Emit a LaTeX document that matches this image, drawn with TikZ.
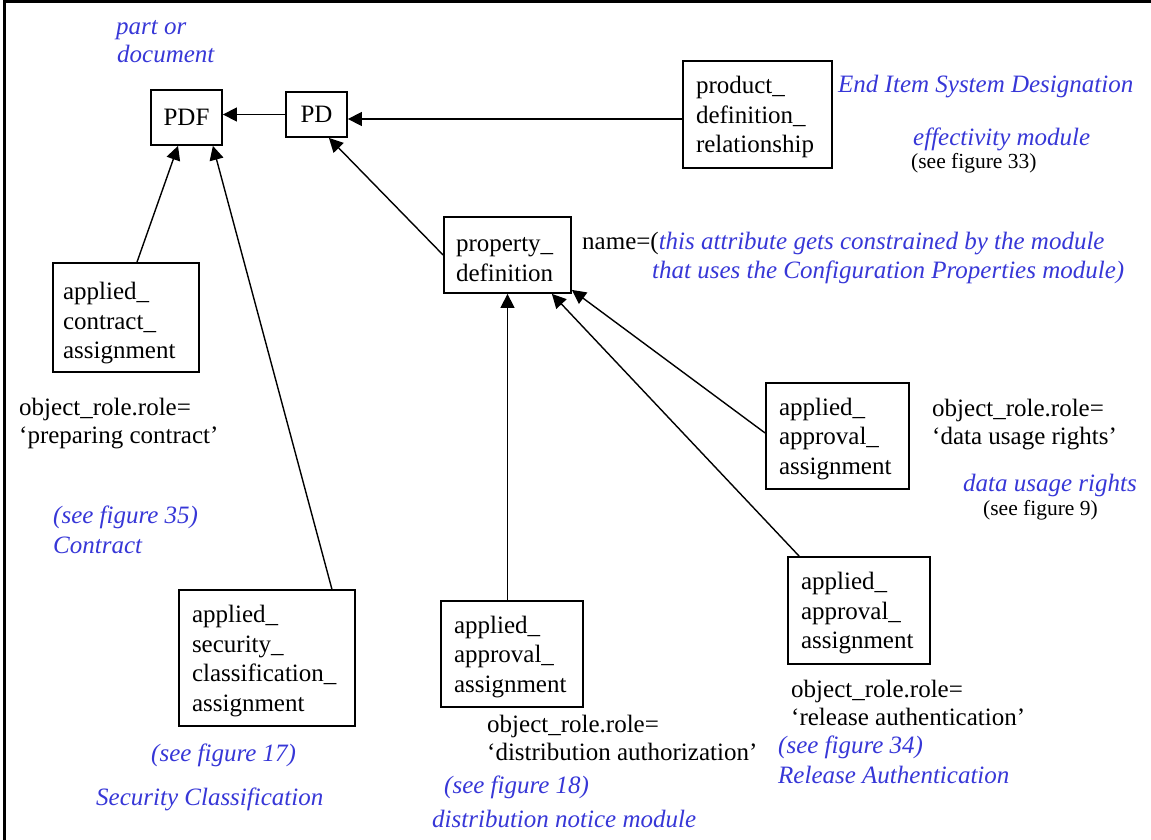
\documentclass[tikz,border=0pt]{standalone}
\usepackage{fontspec}
\setmainfont{Liberation Serif}
\usetikzlibrary{arrows.meta}
\definecolor{note}{RGB}{55,55,215}
% extra height on the first line of an entity box
\newcommand{\firstline}[1][23pt]{\rule{0pt}{#1}}

\begin{document}
\begin{tikzpicture}[x=1pt,y=-1pt,
  every node/.style={font=\fontsize{25}{29.6}\selectfont, inner sep=0pt},
  tag/.style={draw, line width=1.8pt, align=center},
  entity/.style={draw, line width=1.8pt, align=left},
  conn/.style={line width=1.4pt, -{Triangle[length=14pt,width=14pt]}},
  txt/.style={anchor=base west},
  remark/.style={anchor=base west, text=note, font=\fontsize{25}{29.6}\selectfont\itshape},
  small/.style={anchor=base west, font=\fontsize{21.5}{25}\selectfont}]

\useasboundingbox (0,0) rectangle (1151,840);

% frame
\draw[line width=3pt] (4,840) -- (4,2) -- (1151,2);

% entities
\node[tag, minimum width=71pt, minimum height=55pt] (pdf) at (186.5,117.5) {PDF};
\node[tag, minimum width=61pt, minimum height=45pt] (pd) at (316.5,114.5) {PD};
\node[entity, minimum width=149pt, minimum height=107pt, text width=123pt, inner xsep=13pt]
  (pdr) at (757.5,114.5) {\firstline product\_\\definition\_\\relationship};
\node[entity, minimum width=127pt, minimum height=76pt, text width=103pt, inner xsep=12pt]
  (propdef) at (507.5,255) {\firstline property\_\\definition};
\node[entity, minimum width=146pt, minimum height=109pt, text width=126pt, inner xsep=10pt]
  (aca) at (126,317.5) {\firstline[29pt]applied\_\\contract\_\\assignment};
\node[entity, minimum width=176pt, minimum height=136pt, text width=150pt, inner xsep=13pt]
  (asca) at (267,658) {\firstline applied\_\\security\_\\classification\_\\assignment};
\node[entity, minimum width=142pt, minimum height=106pt, text width=116pt, inner xsep=13pt]
  (aaa1) at (512,654) {\firstline applied\_\\approval\_\\assignment};
\node[entity, minimum width=143pt, minimum height=106pt, text width=117pt, inner xsep=13pt]
  (aaa2) at (837.5,436) {\firstline applied\_\\approval\_\\assignment};
\node[entity, minimum width=142pt, minimum height=107pt, text width=116pt, inner xsep=13pt]
  (aaa3) at (859,610.5) {\firstline applied\_\\approval\_\\assignment};

% connectors
\draw[conn] (pd.west) -- (pd.west -| pdf.east);
\coordinate (pdrout) at ([yshift=-4.5pt]pdr.west);
\draw[conn] (pdrout) -- (pdrout -| pd.east);
\draw[conn] (propdef.west) -- ([xshift=-19pt]pd.south east);
\draw[conn] ([xshift=11pt]aca.north) -- ([xshift=-8.5pt]pdf.south);
\draw[conn] ([xshift=-24pt]asca.north east) -- ([xshift=-10pt]pdf.south east);
\draw[conn] (aaa1.north -| propdef.south) -- (propdef.south);
\draw[conn] ([yshift=3pt]aaa2.west) -- ([yshift=4pt]propdef.south east);
\draw[conn] ([xshift=12pt]aaa3.north west) -- ([xshift=-20pt]propdef.south east);

% notes
\node[remark] (partA) at (116,35) {part or};
\node[remark] (partB) at (117,63) {document};

\node[remark] (eisd) at (838,93) {End Item System Designation};
\node[remark] (effmod) at (913,146) {effectivity module};
\node[small] (fig33) at (911,168) {(see figure 33)};

\node[txt] (nameA) at (582,249) {name=(\textcolor{note}{\itshape this attribute gets constrained by the module}};
\node[remark] (nameB) at (652,278) {that uses the Configuration Properties module)};

\node[txt] (roleA1) at (19,415) {object\_role.role=};
\node[txt] (roleA2) at (19,443) {‘preparing contract’};
\node[remark] (fig35) at (53,523) {(see figure 35)};
\node[remark] (contract) at (53,553) {Contract};

\node[txt] (roleB1) at (932,416) {object\_role.role=};
\node[txt] (roleB2) at (932,444) {‘data usage rights’};
\node[remark] (dur) at (963,491) {data usage rights};
\node[small] (fig9) at (983,515) {(see figure 9)};

\node[remark] (fig17) at (151,761) {(see figure 17)};
\node[remark] (secclass) at (96,805) {Security Classification};

\node[txt] (roleC1) at (487,732) {object\_role.role=};
\node[txt] (roleC2) at (487,760) {‘distribution authorization’};
\node[remark] (fig18) at (444,793) {(see figure 18)};
\node[remark] (distmod) at (432,827) {distribution notice module};

\node[txt] (roleD1) at (791,697) {object\_role.role=};
\node[txt] (roleD2) at (791,725) {‘release authentication’};
\node[remark] (fig34) at (778,753) {(see figure 34)};
\node[remark] (relauth) at (778,783) {Release Authentication};
\end{tikzpicture}
\end{document}
